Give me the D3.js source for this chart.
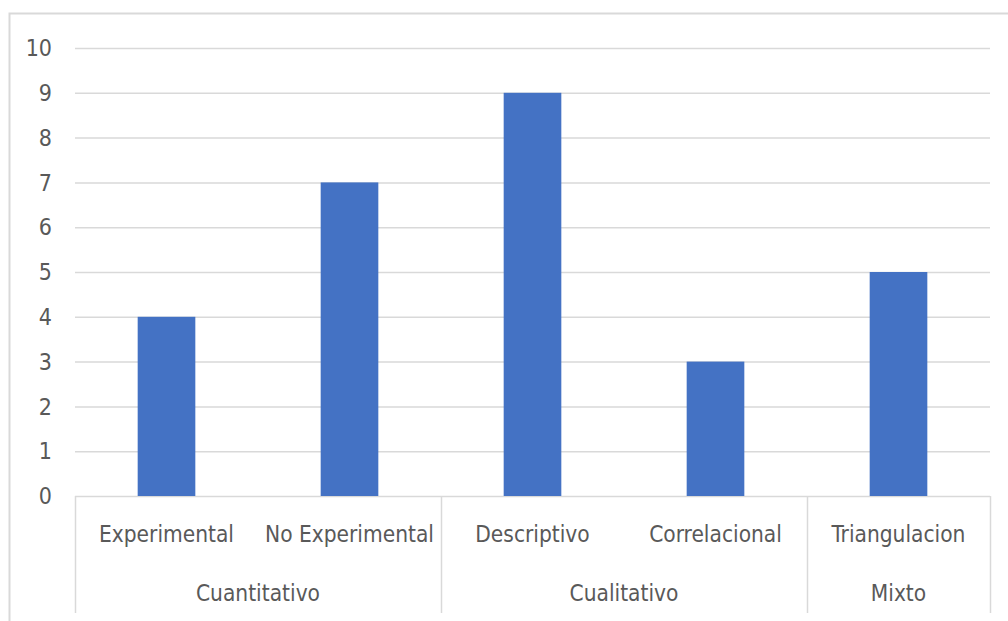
<!DOCTYPE html>
<html><head><meta charset="utf-8">
<script src="https://cdn.jsdelivr.net/npm/d3@7"></script>
<style>
html,body{margin:0;padding:0;background:#fff;}
text{font-family:"DejaVu Sans Condensed","Liberation Sans Narrow",sans-serif;fill:#595959;}
</style></head>
<body><svg id="c" width="1008" height="621"></svg>
<script>
const categories = ["Experimental","No Experimental","Descriptivo","Correlacional","Triangulacion"];
const groups = ["Cuantitativo","Cuantitativo","Cualitativo","Cualitativo","Mixto"];
const values = [4,7,9,3,5];
const yTicks = [0,1,2,3,4,5,6,7,8,9,10];

const svg = d3.select("#c");
const L=75, R=990, T=48, B=496;
// outer border
svg.append("path").attr("d","M9.5,621 L9.5,13.5 L1008,13.5").attr("fill","none").attr("stroke","#d9d9d9").attr("stroke-width",2);

const x = d3.scaleBand().domain(categories).range([L,R]).paddingInner(0).paddingOuter(0);
const y = d3.scaleLinear().domain([0,10]).range([B,T]);

// gridlines
svg.append("g").selectAll("line").data(yTicks).join("line")
  .attr("x1",L).attr("x2",R).attr("y1",d=>y(d)+0.5).attr("y2",d=>y(d)+0.5)
  .attr("stroke","#d9d9d9").attr("stroke-width",1.5);

// y labels
svg.append("g").selectAll("text").data(yTicks).join("text")
  .attr("x",52).attr("y",d=>y(d)).attr("dy","0.36em").attr("text-anchor","end")
  .attr("font-size",23).text(d=>d);

// bars
const bw = x.bandwidth()*0.315;
svg.append("g").selectAll("rect").data(values).join("rect")
  .attr("x",(d,i)=>x(categories[i])+x.bandwidth()/2-bw/2)
  .attr("width",bw)
  .attr("y",d=>y(d)).attr("height",d=>y(0)-y(d))
  .attr("fill","#4472c4");

// category labels
svg.append("g").selectAll("text").data(categories).join("text")
  .attr("x",d=>x(d)+x.bandwidth()/2).attr("y",534).attr("dy","0.36em")
  .attr("text-anchor","middle").attr("font-size",22.5).text(d=>d);

// group separators and labels
const grpNames = [...new Set(groups)];
const grpSpans = grpNames.map(g=>{
  const idx = groups.map((v,i)=>v===g?i:-1).filter(i=>i>=0);
  return {name:g, x0:x(categories[idx[0]]), x1:x(categories[idx[idx.length-1]])+x.bandwidth()};
});
const seps = [L, ...grpSpans.map(s=>s.x1)];
svg.append("g").selectAll("line").data(seps).join("line")
  .attr("x1",d=>Math.round(d)+0.5).attr("x2",d=>Math.round(d)+0.5)
  .attr("y1",B).attr("y2",613).attr("stroke","#d9d9d9").attr("stroke-width",1.5);
svg.append("g").selectAll("text").data(grpSpans).join("text")
  .attr("x",d=>(d.x0+d.x1)/2).attr("y",593).attr("dy","0.36em")
  .attr("text-anchor","middle").attr("font-size",22.5).text(d=>d.name);
</script></body></html>
